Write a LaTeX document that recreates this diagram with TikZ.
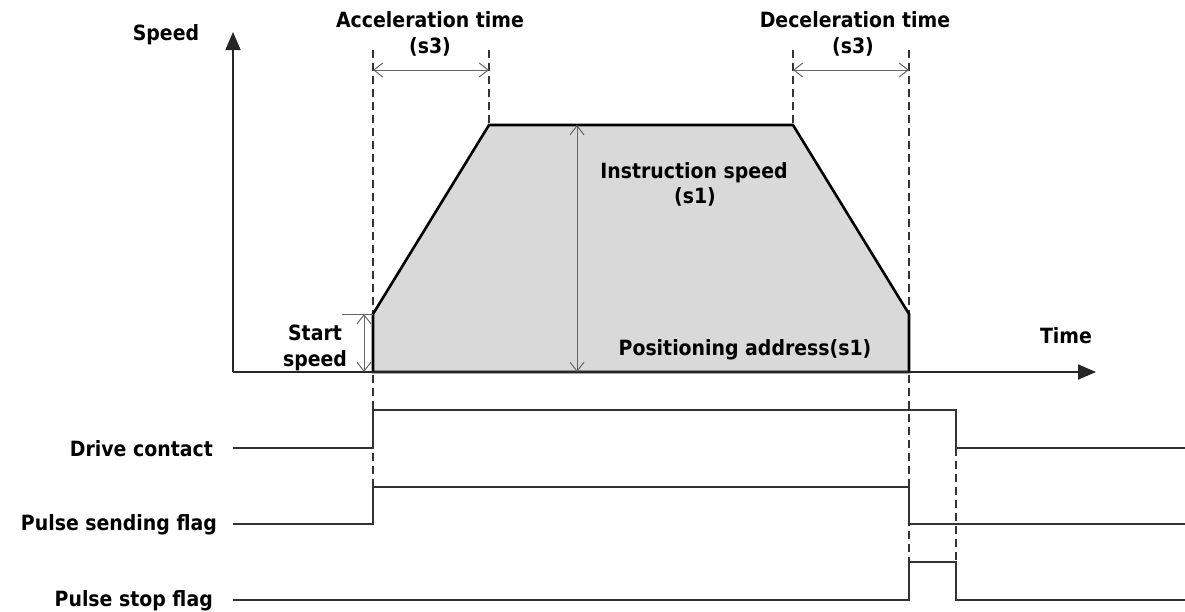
\documentclass[tikz,border=0pt]{standalone}
\usepackage{fontspec}
\setmainfont{DejaVu Sans}[FakeStretch=0.9]
\usetikzlibrary{arrows.meta}
\begin{document}
\begin{tikzpicture}[x=1pt,y=-1pt,
  lbl/.style={font=\fontsize{21}{24}\selectfont\bfseries, inner sep=0pt, anchor=base},
  axis/.style={line width=1.8pt, draw=black!85, -{Triangle[length=18pt,width=15pt]}},
  sig/.style={line width=1.8pt, draw=black!80, line join=miter},
  guide/.style={line width=1.2pt, dash pattern=on 8pt off 5pt, draw=black!80},
  dimline/.style={line width=1pt, draw=black!60, {Straight Barb[length=9pt,width=14pt]}-{Straight Barb[length=9pt,width=14pt]}},
  extline/.style={line width=1pt, draw=black!60},
  profile/.style={line width=2.6pt, draw=black, fill=black!15, line join=miter}]
\useasboundingbox (0,0) rectangle (1185,611);

% key coordinates
\coordinate (O) at (233,372);
\coordinate (ytip) at (233,32);
\coordinate (xtip) at (1096,372);
\coordinate (a0) at (373,372);
\coordinate (a1) at (373,314);
\coordinate (a2) at (489,125);
\coordinate (a3) at (793,125);
\coordinate (a4) at (909,314);
\coordinate (a5) at (909,372);

% dashed guides
\coordinate (g1t) at (373,50);  \coordinate (g1b) at (373,487);
\coordinate (g2t) at (489,50);  \coordinate (g2b) at (489,125);
\coordinate (g3t) at (793,50);  \coordinate (g3b) at (793,125);
\coordinate (g4t) at (909,50);  \coordinate (g4b) at (909,562);
\coordinate (g5t) at (956,448); \coordinate (g5b) at (956,562);
\draw[guide] (g1t) -- (g1b);
\draw[guide] (g2t) -- (g2b);
\draw[guide] (g3t) -- (g3b);
\draw[guide] (g4t) -- (g4b);
\draw[guide] (g5t) -- (g5b);

% speed profile
\draw[profile] (a0) -- (a1) -- (a2) -- (a3) -- (a4) -- (a5) -- cycle;

% axes
\draw[axis] (O) -- (ytip);
\draw[axis] (O) -- (xtip);

% dimension arrows
\coordinate (d1l) at (373,70); \coordinate (d1r) at (489,70);
\coordinate (d2l) at (793,70); \coordinate (d2r) at (909,70);
\coordinate (d3t) at (577,125); \coordinate (d3b) at (577,372);
\coordinate (d4t) at (364,314); \coordinate (d4b) at (364,372);
\coordinate (e4) at (342,314);
\draw[dimline] (d1l) -- (d1r);
\draw[dimline] (d2l) -- (d2r);
\draw[dimline] (d3t) -- (d3b);
\draw[dimline] (d4t) -- (d4b);
\draw[extline] (e4) -- (a1);

% labels
\node[lbl] (speed) at (166,40) {Speed};
\node[lbl] (acc1) at (430,27) {Acceleration time};
\node[lbl] (acc2) at (430,53) {(s3)};
\node[lbl] (dec1) at (855,27) {Deceleration time};
\node[lbl] (dec2) at (853,53) {(s3)};
\node[lbl] (ins1) at (694,178) {Instruction speed};
\node[lbl] (ins2) at (695,203) {(s1)};
\node[lbl] (st1) at (315,340) {Start};
\node[lbl] (st2) at (315,366) {speed};
\node[lbl] (pos) at (745,355) {Positioning address(s1)};
\node[lbl] (time) at (1066,343) {Time};
\node[lbl, anchor=base east] (drv) at (213,456) {Drive contact};
\node[lbl, anchor=base east] (psf) at (217,530) {Pulse sending flag};
\node[lbl, anchor=base east] (pst) at (213,606) {Pulse stop flag};

% timing signals
\draw[sig] (233,448) -- (373,448) -- (373,410) -- (956,410) -- (956,448) -- (1185,448);
\draw[sig] (233,524) -- (373,524) -- (373,487) -- (909,487) -- (909,524) -- (1185,524);
\draw[sig] (233,600) -- (909,600) -- (909,562) -- (956,562) -- (956,600) -- (1185,600);
\end{tikzpicture}
\end{document}
